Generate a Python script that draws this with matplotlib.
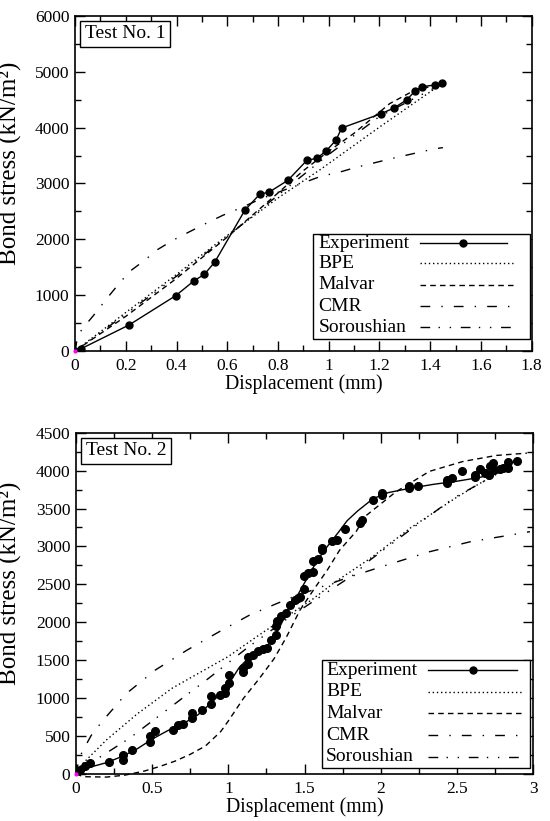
import matplotlib
matplotlib.use("Agg")
import matplotlib.pyplot as plt
from matplotlib.patches import Rectangle
from matplotlib.ticker import MultipleLocator, FuncFormatter

plt.rcParams["font.family"] = ["Liberation Serif", "DejaVu Serif"]

# ---- Test No. 1 ----
t1_exp_x = [0, 0.022, 0.213, 0.397, 0.470, 0.510, 0.551, 0.670, 0.729, 0.764, 0.839,
            0.914, 0.953, 0.991, 1.029, 1.051, 1.207, 1.257, 1.307, 1.339, 1.366, 1.418, 1.448]
t1_exp_y = [0, 36, 466, 991, 1260, 1373, 1594, 2525, 2812, 2842, 3057,
            3415, 3451, 3588, 3779, 3994, 4251, 4352, 4496, 4651, 4734, 4764, 4806]
t1_bpe_x = [0, 0.2, 0.4, 0.6, 0.8, 0.97, 1.2, 1.45]
t1_bpe_y = [0, 690, 1370, 2070, 2740, 3260, 4010, 4800]
t1_mal_x = [0, 0.2, 0.4, 0.6, 0.8, 0.9, 1.0, 1.1, 1.24, 1.33, 1.45]
t1_mal_y = [0, 620, 1300, 2040, 2830, 3230, 3580, 3900, 4430, 4650, 4800]
t1_cmr_x = [0, 0.01, 0.021, 0.047, 0.08, 0.126, 0.166, 0.214, 0.271, 0.327, 0.389, 0.45,
            0.514, 0.583, 0.657, 0.73, 0.86, 0.966, 1.051, 1.11, 1.254, 1.41, 1.45]
t1_cmr_y = [0, 250, 346, 495, 675, 944, 1165, 1420, 1613, 1821, 1990, 2133,
            2280, 2431, 2570, 2720, 2944, 3124, 3214, 3292, 3453, 3614, 3643]
t1_sor_x = [0, 0.2, 0.4, 0.6, 0.8, 1.0, 1.2, 1.45]
t1_sor_y = [0, 660, 1340, 2050, 2790, 3520, 4200, 4790]

# ---- Test No. 2 ----
t2_exp_x = [0, 0.026, 0.059, 0.092, 0.219, 0.306, 0.306, 0.365, 0.486, 0.486, 0.519,
            0.639, 0.672, 0.705, 0.764, 0.764, 0.825, 0.884, 0.884, 0.945, 0.978, 0.978,
            1.007, 1.007, 1.094, 1.094, 1.127, 1.127, 1.164, 1.197, 1.230, 1.252, 1.280,
            1.313, 1.313, 1.317, 1.344, 1.376, 1.405, 1.438, 1.460, 1.470, 1.497, 1.499,
            1.525, 1.558, 1.558, 1.591, 1.617, 1.617, 1.678, 1.716, 1.766, 1.864, 1.875,
            1.952, 2.007, 2.007, 2.188, 2.188, 2.247, 2.438, 2.438, 2.470, 2.536, 2.619,
            2.619, 2.652, 2.685, 2.713, 2.718, 2.740, 2.746, 2.783, 2.805, 2.837, 2.837, 2.897]
t2_exp_y = [0, 57, 101, 145, 158, 255, 189, 320, 417, 496, 562,
            584, 650, 663, 738, 803, 839, 926, 1023, 1045, 1067, 1133,
            1199, 1308, 1339, 1396, 1449, 1541, 1572, 1616, 1646, 1668, 1769,
            1835, 1954, 2011, 2077, 2129, 2230, 2296, 2318, 2340, 2437, 2612,
            2647, 2669, 2814, 2832, 2954, 2985, 3077, 3086, 3231, 3315, 3350,
            3613, 3679, 3710, 3767, 3802, 3802, 3841, 3876, 3898, 3999, 3911,
            3942, 4017, 3973, 3942, 4061, 4105, 4008, 4017, 4030, 4118, 4030, 4131]
t2_fit_x = [0, 0.04, 0.1, 0.2, 0.3, 0.4, 0.5, 0.6, 0.7, 0.8, 0.9, 1.0, 1.07, 1.14, 1.2,
            1.25, 1.3, 1.35, 1.4, 1.45, 1.5, 1.55, 1.6, 1.65, 1.72, 1.78, 1.85, 1.95,
            2.05, 2.2, 2.35, 2.5, 2.65, 2.75, 2.85]
t2_fit_y = [0, 55, 95, 150, 230, 330, 460, 570, 660, 780, 960, 1180, 1400, 1545, 1620,
            1680, 1790, 1990, 2200, 2340, 2520, 2700, 2860, 3000, 3180, 3340, 3470, 3630,
            3710, 3770, 3820, 3860, 3910, 3960, 4040]
t2_bpe_x = [0, 0.03, 0.2, 0.4, 0.63, 1.0, 1.2, 1.4, 1.55, 1.7, 1.93, 2.2, 2.5, 2.65, 2.85]
t2_bpe_y = [0, 110, 450, 790, 1130, 1550, 1830, 2100, 2300, 2530, 2840, 3250, 3650, 3830, 4050]
t2_mal_x = [0, 0.05, 0.2, 0.32, 0.45, 0.55, 0.65, 0.75, 0.85, 0.95, 1.0, 1.1, 1.2, 1.3,
            1.38, 1.47, 1.56, 1.65, 1.73, 1.84, 1.9, 2.1, 2.32, 2.54, 2.76, 2.96]
t2_mal_y = [0, -35, -40, -15, 40, 100, 170, 260, 370, 560, 700, 1000, 1250, 1520,
            1800, 2160, 2430, 2690, 2950, 3200, 3400, 3720, 3990, 4120, 4200, 4230]
t2_cmr_x = [0, 0.02, 0.04, 0.1, 0.17, 0.33, 0.52, 0.73, 0.94, 1.14, 1.38, 1.6, 1.8,
            2.04, 2.32, 2.59, 2.85, 2.98]
t2_cmr_y = [0, 200, 290, 510, 690, 1060, 1370, 1635, 1876, 2096, 2300, 2460, 2600,
            2755, 2930, 3063, 3150, 3195]
t2_sor_x = [0, 0.1, 0.35, 0.61, 0.87, 1.12, 1.39, 1.67, 1.82, 1.93, 2.21, 2.48, 2.85]
t2_sor_y = [0, 150, 470, 866, 1261, 1657, 2052, 2426, 2624, 2821, 3243, 3640, 4050]

labels = ["Experiment", "BPE", "Malvar", "CMR", "Soroushian"]
styles = {
    "Experiment": "-",
    "BPE": (0, (1, 2)),
    "Malvar": (0, (4, 3)),
    "CMR": (0, (7, 8, 1, 8)),
    "Soroushian": (0, (7, 6, 1, 7, 1, 7)),
}

fmt = FuncFormatter(lambda v, pos: "%g" % v)


def style_axes(ax, xmax, xmaj, xmin, ymax, ymaj, ymin, ylab_pos):
    ax.set_xlim(0, xmax)
    ax.set_ylim(0, ymax)
    ax.xaxis.set_major_locator(MultipleLocator(xmaj))
    ax.xaxis.set_minor_locator(MultipleLocator(xmin))
    ax.yaxis.set_major_locator(MultipleLocator(ymaj))
    ax.yaxis.set_minor_locator(MultipleLocator(ymin))
    ax.xaxis.set_major_formatter(fmt)
    ax.yaxis.set_major_formatter(fmt)
    ax.tick_params(which="both", direction="in", top=True, right=True, labelsize=12.5, width=1)
    ax.tick_params(which="major", length=7)
    ax.tick_params(which="minor", length=4)
    ax.tick_params(axis="x", pad=5)
    ax.tick_params(axis="y", pad=4)
    for s in ax.spines.values():
        s.set_linewidth(1.2)
    ax.set_xlabel("Displacement (mm)", fontsize=14.2, labelpad=0)
    ax.set_ylabel("Bond stress (kN/m²)", fontsize=18)
    ax.yaxis.set_label_coords(*ylab_pos)


def draw_legend(ax, box, text_x, rows_y, line_x0, line_x1, marker_x):
    """Hand-made legend: labels left aligned, samples on the right."""
    x0, y0, x1, y1 = box
    ax.add_patch(Rectangle((x0, y0), x1 - x0, y1 - y0, transform=ax.transAxes,
                           facecolor="white", edgecolor="black", lw=1, zorder=6))
    for i, name in enumerate(labels):
        y = rows_y[i]
        ax.text(text_x, y, name, transform=ax.transAxes, fontsize=14,
                ha="left", va="center", zorder=7)
        end = line_x1 - 0.012 if name == "Experiment" else line_x1
        ax.plot([line_x0, end], [y, y], transform=ax.transAxes, color="black",
                lw=1, linestyle=styles[name], zorder=7)
        if name == "Experiment":
            ax.plot([marker_x], [y], "o", transform=ax.transAxes, color="black",
                    markersize=5, zorder=8)


fig = plt.figure(figsize=(5.5, 8.21), dpi=100)
ax1 = fig.add_axes([0.1364, 0.5725, 0.8303, 0.408])
ax2 = fig.add_axes([0.1382, 0.0572, 0.8309, 0.4158])

# Test 1
ax1.plot(t1_exp_x, t1_exp_y, color="black", lw=1, marker="o", markersize=5)
ax1.plot(t1_bpe_x, t1_bpe_y, color="black", lw=1, linestyle=styles["BPE"])
ax1.plot(t1_mal_x, t1_mal_y, color="black", lw=1, linestyle=styles["Malvar"])
ax1.plot(t1_cmr_x, t1_cmr_y, color="black", lw=1, linestyle=styles["CMR"])
ax1.plot(t1_sor_x, t1_sor_y, color="black", lw=1, linestyle=styles["Soroushian"])
ax1.plot([0], [0], "o", color="magenta", markersize=2, clip_on=False, zorder=5)
style_axes(ax1, 1.8, 0.2, 0.1, 6000, 1000, 500, (-0.116, 0.56))
ax1.text(0.021, 0.972, "Test No. 1", transform=ax1.transAxes, fontsize=14, va="top", ha="left",
         bbox=dict(boxstyle="square,pad=0.22", facecolor="white", edgecolor="black", lw=1))
draw_legend(ax1, (0.521, 0.036, 0.996, 0.349), 0.533,
            [0.3215, 0.262, 0.197, 0.134, 0.071], 0.755, 0.959, 0.85)

# Test 2
ax2.plot(t2_fit_x, t2_fit_y, color="black", lw=1)
ax2.plot(t2_exp_x, t2_exp_y, "o", color="black", markersize=5.5)
ax2.plot(t2_bpe_x, t2_bpe_y, color="black", lw=1, linestyle=styles["BPE"])
ax2.plot(t2_mal_x, t2_mal_y, color="black", lw=1, linestyle=styles["Malvar"], clip_on=False)
ax2.plot(t2_cmr_x, t2_cmr_y, color="black", lw=1, linestyle=styles["CMR"])
ax2.plot(t2_sor_x, t2_sor_y, color="black", lw=1, linestyle=styles["Soroushian"])
ax2.plot([0], [0], "o", color="magenta", markersize=2, clip_on=False, zorder=5)
style_axes(ax2, 3, 0.5, 0.25, 4500, 500, 250, (-0.118, 0.56))
ax2.text(0.021, 0.972, "Test No. 2", transform=ax2.transAxes, fontsize=14, va="top", ha="left",
         bbox=dict(boxstyle="square,pad=0.22", facecolor="white", edgecolor="black", lw=1))
draw_legend(ax2, (0.5376, 0.0167, 0.993, 0.3349), 0.547,
            [0.3047, 0.2412, 0.1778, 0.1143, 0.0507], 0.771, 0.978, 0.869)

fig.savefig("out.png", dpi=100)
